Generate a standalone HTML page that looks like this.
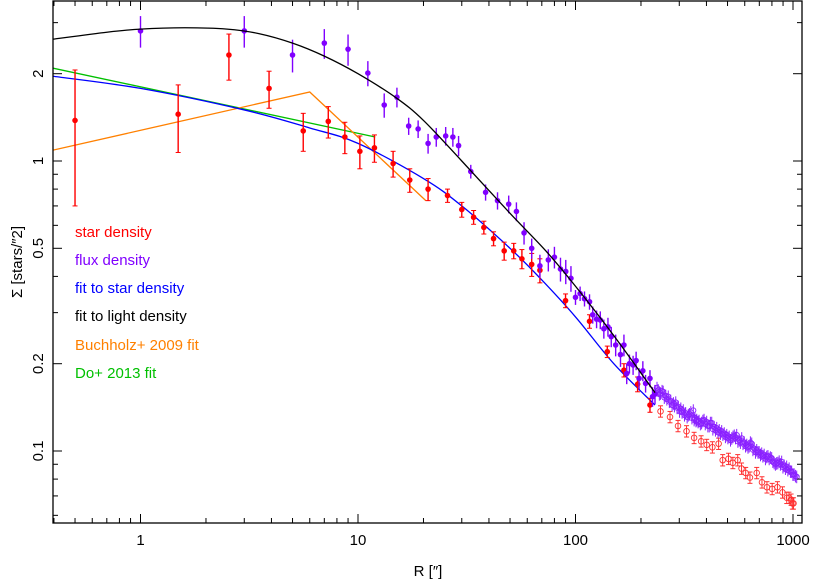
<!DOCTYPE html>
<html><head><meta charset="utf-8"><style>
html,body{margin:0;padding:0;background:#fff;}
svg{display:block;font-family:"Liberation Sans",sans-serif;}
</style></head><body>
<svg id="chart" width="815" height="581" viewBox="0 0 815 581" xmlns="http://www.w3.org/2000/svg">
<rect x="0" y="0" width="815" height="581" fill="#fff"/>
<g id="plot"></g>
<rect x="53" y="1" width="749" height="522" fill="none" stroke="#000" stroke-width="1.3"/>
<g id="axes"></g>
<text x="428" y="576" font-size="15" text-anchor="middle">R [″]</text>
<text x="0" y="0" font-size="15" text-anchor="middle" transform="translate(22,262) rotate(-90)">Σ  [stars/″2]</text>
<g font-size="15">
<text x="75" y="237" fill="#ff0000">star density</text>
<text x="75" y="265" fill="#8000ff">flux density</text>
<text x="75" y="293" fill="#0000ff">fit to star density</text>
<text x="75" y="321" fill="#000">fit to light density</text>
<text x="75" y="350" fill="#ff8000">Buchholz+ 2009 fit</text>
<text x="75" y="378" fill="#00c000">Do+ 2013 fit</text>
</g>
</svg>
<script>
// ---- data ----
const starR = [0.5,1.49,2.55,3.9,5.6,7.3,8.7,10.2,11.9,14.5,17.3,21,25.8,30,34,37.9,42,47,52,56.7,62.9,68.6,90,116,140,167,193,220];
const starS = [1.38,1.45,2.32,1.78,1.27,1.37,1.21,1.08,1.11,0.98,0.86,0.80,0.76,0.68,0.64,0.59,0.54,0.49,0.49,0.46,0.44,0.42,0.33,0.28,0.22,0.19,0.17,0.144];
const starE = [0.68,0.38,0.42,0.26,0.19,0.17,0.15,0.14,0.12,0.1,0.08,0.07,0.04,0.04,0.035,0.03,0.03,0.035,0.03,0.035,0.04,0.04,0.018,0.015,0.01,0.01,0.01,0.008];
const starOutR = [246,272,296,324,351,378,401,426,455,475,505,529,557,580,606,634,681,720,759,802,848,895,936,958,980,993,1005];
const starOutS = [0.137,0.131,0.122,0.117,0.111,0.108,0.105,0.103,0.106,0.093,0.094,0.091,0.093,0.087,0.084,0.081,0.084,0.078,0.075,0.074,0.075,0.072,0.069,0.069,0.068,0.066,0.066];
const fluxR = [1,3,5,7,9,11.1,13.2,15.1,17.1,18.9,21,22.9,25.3,27.3,29,33,38.6,43.8,49.3,53.5,58,62.9,68.6,75,80,85.3,90.2,95.3,100,105,110,116,120,125,130,135,141,146,153,161,167,172,177,184,190,196,204,210,220,226,232];
const fluxS = [2.81,2.81,2.32,2.55,2.43,2.01,1.56,1.66,1.32,1.29,1.15,1.21,1.22,1.21,1.13,0.92,0.78,0.73,0.71,0.67,0.565,0.50,0.435,0.456,0.466,0.424,0.416,0.394,0.339,0.349,0.335,0.327,0.295,0.285,0.283,0.264,0.268,0.248,0.232,0.215,0.232,0.185,0.2,0.198,0.205,0.178,0.189,0.171,0.178,0.154,0.157];
const fluxE = [0.35,0.35,0.3,0.3,0.3,0.2,0.15,0.13,0.09,0.09,0.09,0.09,0.09,0.09,0.09,0.05,0.05,0.05,0.05,0.05,0.05,0.04,0.04,0.04,0.04,0.04,0.04,0.04,0.02,0.02,0.02,0.02,0.02,0.02,0.02,0.02,0.02,0.02,0.02,0.02,0.02,0.015,0.015,0.015,0.015,0.015,0.015,0.012,0.012,0.012,0.012];
const fluxOutR = [237,240,243,246,250,253,256,260,263,267,270,274,278,282,285,289,293,297,301,305,309,313,317,321,326,330,334,339,343,348,351,354,358,361,366,370,375,380,385,390,395,401,406,412,417,423,428,434,440,446,452,458,464,470,476,483,489,496,502,509,516,523,530,537,544,551,558,566,573,581,589,597,605,613,621,629,637,646,654,663,672,681,690,699,709,718,727,737,747,757,767,777,787,798,808,819,830,841,852,864,875,887,899,911,923,935,947,960,973,986,999,1012,1026,1040];
const fluxOutS = [0.165,0.162,0.157,0.158,0.161,0.160,0.153,0.155,0.151,0.154,0.148,0.149,0.144,0.146,0.143,0.147,0.141,0.142,0.137,0.14,0.136,0.138,0.133,0.135,0.131,0.133,0.134,0.136,0.13,0.138,0.128,0.13,0.127,0.128,0.126,0.127,0.124,0.125,0.127,0.128,0.124,0.126,0.122,0.122,0.125,0.125,0.119,0.121,0.118,0.120,0.116,0.118,0.115,0.117,0.114,0.115,0.112,0.1135,0.111,0.112,0.109,0.1106,0.112,0.113,0.111,0.1135,0.108,0.109,0.107,0.1106,0.106,0.107,0.104,0.105,0.103,0.104,0.107,0.106,0.101,0.102,0.099,0.1007,0.099,0.099,0.097,0.098,0.096,0.097,0.094,0.0955,0.096,0.094,0.095,0.0944,0.092,0.091,0.09,0.0907,0.091,0.092,0.09,0.0918,0.088,0.089,0.087,0.0883,0.086,0.087,0.085,0.0849,0.083,0.083,0.082,0.0815];
const fitLightR = [0.396,0.7,1,1.6,2.5,3.5,5,7,10,15,20,30,50,73,100,150,232];
const fitLightS = [2.63,2.78,2.85,2.88,2.85,2.75,2.55,2.3,2.0,1.65,1.38,1.0,0.66,0.49,0.37,0.25,0.159];
const fitStarR = [0.396,1,3,6,10,20,30,50,68.6,100,150,232];
const fitStarS = [1.96,1.78,1.5,1.3,1.15,0.87,0.7,0.5,0.395,0.29,0.2,0.144];
const buchR = [0.396,6,20.5];
const buchS = [1.09,1.73,0.73];
const doR = [0.396,12];
const doS = [2.09,1.21];
const xTicks = [1,10,100,1000];
const xTickLabels = ["1","10","100","1000"];
const yTicks = [0.1,0.2,0.5,1,2];
const yTickLabels = ["0.1","0.2","0.5","1","2"];
// ---- axes ----
const L=53,R=802,T=1,B=523;
const X = v => 140.5 + 217.5*Math.log10(v);
const Y = v => 161 - 290*Math.log10(v);
const NS="http://www.w3.org/2000/svg";
const plot=document.getElementById('plot'), axes=document.getElementById('axes');
function mk(tag,parent){const e=document.createElementNS(NS,tag);parent.appendChild(e);return e;}
function line(p,x1,y1,x2,y2,col,w){const e=mk('line',p);e.setAttribute('x1',x1);e.setAttribute('y1',y1);e.setAttribute('x2',x2);e.setAttribute('y2',y2);e.setAttribute('stroke',col);e.setAttribute('stroke-width',w);return e;}
for(let d=-1;d<=3;d++){for(let m=1;m<=9;m++){const v=m*Math.pow(10,d);const x=X(v);if(x<L||x>R)continue;const len=m===1?9:5;
const t1=line(axes,x,B,x,B-len,'#000',1);


const t2=line(axes,x,T,x,T+len,'#000',1);

}}
xTicks.forEach((v,i)=>{const t=mk('text',axes);t.setAttribute('x',X(v));t.setAttribute('y',B+22);t.setAttribute('font-size','15');t.setAttribute('text-anchor','middle');t.textContent=xTickLabels[i];

});
for(let d=-2;d<=0;d++){for(let m=1;m<=9;m++){const v=m*Math.pow(10,d);const y=Y(v);if(y<T||y>B)continue;const len=(yTicks.includes(+v.toPrecision(3)))?9:5;
const t1=line(axes,L,y,L+len,y,'#000',1);


const t2=line(axes,R,y,R-len,y,'#000',1);

}}
yTicks.forEach((v,i)=>{const t=mk('text',axes);t.setAttribute('font-size','15');t.setAttribute('text-anchor','middle');t.setAttribute('transform','translate(43,'+Y(v)+') rotate(-90)');t.textContent=yTickLabels[i];

});
const defs=mk('defs',plot);const cp=mk('clipPath',defs);cp.setAttribute('id','clip');const cr=mk('rect',cp);cr.setAttribute('x',L);cr.setAttribute('y',T);cr.setAttribute('width',R-L);cr.setAttribute('height',B-T);
const g=mk('g',plot);g.setAttribute('clip-path','url(#clip)');
function curve(rs,ss,col,name,smooth){const P=rs.map((r,i)=>[X(r),Y(ss[i])]);let d='M'+P[0][0]+','+P[0][1];
for(let i=0;i<P.length-1;i++){if(!smooth){d+=' L'+P[i+1][0]+','+P[i+1][1];continue;}
const p0=P[Math.max(i-1,0)],p1=P[i],p2=P[i+1],p3=P[Math.min(i+2,P.length-1)];
d+=' C'+(p1[0]+(p2[0]-p0[0])/6)+','+(p1[1]+(p2[1]-p0[1])/6)+' '+(p2[0]-(p3[0]-p1[0])/6)+','+(p2[1]-(p3[1]-p1[1])/6)+' '+p2[0]+','+p2[1];}
const p=mk('path',g);p.setAttribute('d',d);p.setAttribute('fill','none');p.setAttribute('stroke',col);p.setAttribute('stroke-width','1.3');

}
function pts(rs,ss,es,col,filled,name,frac,caps,rad){rs.forEach((r,i)=>{const x=X(r),y=Y(ss[i]);const e=es?es[i]:ss[i]*frac;
const y1=Y(ss[i]+e),y2=Y(Math.max(ss[i]-e,1e-3));
const b=line(g,x,y1,x,y2,col,filled?1.4:1);


if(caps){line(g,x-2.5,y1,x+2.5,y1,col,1);line(g,x-2.5,y2,x+2.5,y2,col,1);}
const c=mk('circle',g);c.setAttribute('cx',x);c.setAttribute('cy',y);c.setAttribute('r',rad);c.setAttribute('fill',filled?col:'none');c.setAttribute('stroke',col);c.setAttribute('stroke-width',filled?0:0.9);

});}
curve(doR,doS,'#00c000','do-2013-fit',false);
curve(buchR,buchS,'#ff8000','buchholz-2009-fit',false);
curve(fitStarR,fitStarS,'#0000ff','fit-star-density',true);
pts(starOutR,starOutS,null,'#ff3030',false,'star-density-outer',0.045,true,2.8);
pts(fluxOutR,fluxOutS,null,'#8a20ff',false,'flux-density-outer',0.05,false,2.6);
pts(starR,starS,starE,'#ff0000',true,'star-density',0,true,2.8);
pts(fluxR,fluxS,fluxE,'#8000ff',true,'flux-density',0,false,2.8);
curve(fitLightR,fitLightS,'#000','fit-light-density',true);
</script>
</body></html>
